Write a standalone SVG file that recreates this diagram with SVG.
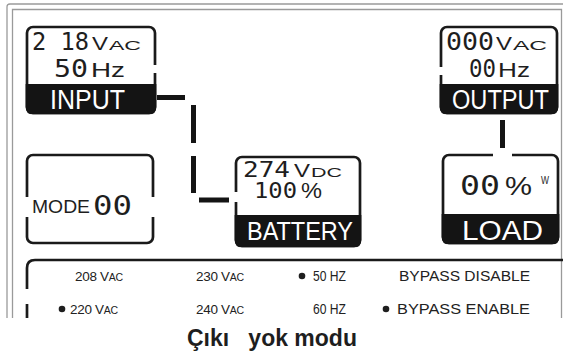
<svg xmlns="http://www.w3.org/2000/svg" width="563" height="357" viewBox="0 0 563 357">
<style>
.frame{fill:none;stroke:#1a1a1a;stroke-width:2.7}
.band{fill:#141414}
.gap{fill:#fff}
.seg{font-family:"DejaVu Sans Mono","Liberation Mono",monospace;fill:#1e1e1e}
.lbl{font-family:"Liberation Sans",Arial,sans-serif;fill:#1e1e1e}
.inv{font-family:"Liberation Sans",Arial,sans-serif;fill:#fff}
.opt{font-family:"Liberation Sans",Arial,sans-serif;fill:#222;font-size:14px}
.v{font-family:"Liberation Sans",Arial,sans-serif;fill:#222;font-size:13.5px;letter-spacing:-0.3px}
.sm{font-size:10.5px}
.bar{fill:#141414}
.outer{fill:none;stroke:#9a9a9a;stroke-width:1.3}
.dot{fill:#1e1e1e}
</style>
<defs><clipPath id="pic"><rect x="0" y="0" width="563" height="318"/></clipPath></defs>
<rect width="563" height="357" fill="#fff"/>
<g clip-path="url(#pic)">
 <g id="outer-frame">
  <path class="outer" d="M7,330 V7 Q7,4 10,4 H570"/>
  <path class="outer" d="M12.5,330 V9.5 H561.5 V330"/>
 </g>

 <g id="input">
  <rect class="frame" x="27" y="27" width="128" height="86" rx="6"/>
  <path class="band" d="M25.65,84 H156.35 V107 Q156.35,114.35 149,114.35 H33 Q25.65,114.35 25.65,107 Z"/>
  <rect class="gap" x="152" y="65" width="5" height="8"/>
  <text class="seg" x="32" y="50" font-size="25" textLength="57" lengthAdjust="spacingAndGlyphs">2 18</text>
  <text class="lbl" x="92" y="50" font-size="18" textLength="16" lengthAdjust="spacingAndGlyphs">V</text>
  <text class="lbl" x="109" y="50" font-size="13" textLength="32" lengthAdjust="spacingAndGlyphs">AC</text>
  <text class="seg" x="54" y="77" font-size="25" textLength="34" lengthAdjust="spacingAndGlyphs">50</text>
  <text class="lbl" x="91" y="77" font-size="21" textLength="34" lengthAdjust="spacingAndGlyphs">Hz</text>
  <text class="inv" x="50" y="109" font-size="27" textLength="75" lengthAdjust="spacingAndGlyphs">INPUT</text>
 </g>

 <g id="output">
  <rect class="frame" x="441" y="27" width="116" height="86" rx="6"/>
  <path class="band" d="M439.65,84 H558.35 V107 Q558.35,114.35 551,114.35 H447 Q439.65,114.35 439.65,107 Z"/>
  <rect class="gap" x="438" y="67" width="6" height="8"/>
  <text class="seg" x="446" y="50" font-size="25" textLength="48" lengthAdjust="spacingAndGlyphs">000</text>
  <text class="lbl" x="496" y="50" font-size="18" textLength="16" lengthAdjust="spacingAndGlyphs">V</text>
  <text class="lbl" x="513" y="50" font-size="13" textLength="34" lengthAdjust="spacingAndGlyphs">AC</text>
  <text class="seg" x="469" y="77" font-size="25" textLength="27" lengthAdjust="spacingAndGlyphs">00</text>
  <text class="lbl" x="498" y="77" font-size="21" textLength="32" lengthAdjust="spacingAndGlyphs">Hz</text>
  <text class="inv" x="452" y="109" font-size="27" textLength="97" lengthAdjust="spacingAndGlyphs">OUTPUT</text>
 </g>

 <g id="mode">
  <rect class="frame" x="27" y="155" width="126" height="88" rx="6"/>
  <rect class="gap" x="24" y="197" width="6" height="20"/>
  <rect class="gap" x="150" y="197" width="6" height="20"/>
  <text class="lbl" x="32" y="213" font-size="18" textLength="58" lengthAdjust="spacingAndGlyphs">MODE</text>
  <text class="seg" x="93" y="215" font-size="26" textLength="39" lengthAdjust="spacingAndGlyphs">00</text>
 </g>

 <g id="battery">
  <rect class="frame" x="236" y="157" width="124" height="89" rx="6"/>
  <path class="band" d="M234.65,215 H361.35 V240 Q361.35,247.35 354,247.35 H242 Q234.65,247.35 234.65,240 Z"/>
  <rect class="gap" x="233" y="192" width="6" height="10"/>
  <text class="seg" x="243" y="177" font-size="21" textLength="47" lengthAdjust="spacingAndGlyphs">274</text>
  <text class="lbl" x="294" y="177" font-size="18" textLength="16" lengthAdjust="spacingAndGlyphs">V</text>
  <text class="lbl" x="311" y="177" font-size="13" textLength="31" lengthAdjust="spacingAndGlyphs">DC</text>
  <text class="seg" x="254" y="198" font-size="21" textLength="43" lengthAdjust="spacingAndGlyphs">100</text>
  <text class="lbl" x="301" y="198" font-size="22" textLength="21" lengthAdjust="spacingAndGlyphs">%</text>
  <text class="inv" x="247" y="240" font-size="25" textLength="106" lengthAdjust="spacingAndGlyphs">BATTERY</text>
 </g>

 <g id="load">
  <rect class="frame" x="443" y="155" width="115" height="88" rx="6"/>
  <path class="band" d="M441.65,214 H559.35 V237 Q559.35,244.35 552,244.35 H449 Q441.65,244.35 441.65,237 Z"/>
  <rect class="gap" x="493" y="152" width="19" height="6"/>
  <text class="seg" x="460" y="195" font-size="26" textLength="40" lengthAdjust="spacingAndGlyphs">00</text>
  <text class="lbl" x="505" y="195" font-size="26" textLength="27" lengthAdjust="spacingAndGlyphs">%</text>
  <text class="lbl" x="541" y="184" font-size="10" textLength="8" lengthAdjust="spacingAndGlyphs">W</text>
  <text class="inv" x="462" y="240" font-size="27" textLength="81" lengthAdjust="spacingAndGlyphs">LOAD</text>
 </g>

 <g id="connectors">
  <rect class="bar" x="157" y="95" width="28" height="5"/>
  <rect class="bar" x="191" y="105" width="5" height="38"/>
  <rect class="bar" x="191" y="156" width="5" height="37"/>
  <rect class="bar" x="199" y="197.5" width="30" height="5"/>
  <rect class="bar" x="500" y="120" width="5" height="28"/>
 </g>

 <g id="settings">
  <path class="frame" d="M27,330 V268 Q27,260 35,260 H570"/>
  <rect class="gap" x="24" y="289" width="6" height="15"/>
  <text class="v" x="75" y="281">208 V<tspan class="sm">AC</tspan></text>
  <text class="v" x="196" y="281">230 V<tspan class="sm">AC</tspan></text>
  <circle class="dot" cx="302" cy="276" r="3.3"/>
  <text class="opt" x="313" y="281" textLength="33" lengthAdjust="spacingAndGlyphs">50 HZ</text>
  <text class="opt" x="399" y="281" textLength="131" lengthAdjust="spacingAndGlyphs">BYPASS DISABLE</text>
  <circle class="dot" cx="62" cy="309" r="3.3"/>
  <text class="v" x="70" y="314">220 V<tspan class="sm">AC</tspan></text>
  <text class="v" x="196" y="314">240 V<tspan class="sm">AC</tspan></text>
  <text class="opt" x="313" y="314" textLength="33" lengthAdjust="spacingAndGlyphs">60 HZ</text>
  <circle class="dot" cx="386" cy="309" r="3.3"/>
  <text class="opt" x="397" y="314" textLength="133" lengthAdjust="spacingAndGlyphs">BYPASS ENABLE</text>
 </g>
</g>
<text class="lbl" x="187" y="346" font-size="23" font-weight="bold" xml:space="preserve">Çıkı   yok modu</text>
</svg>
